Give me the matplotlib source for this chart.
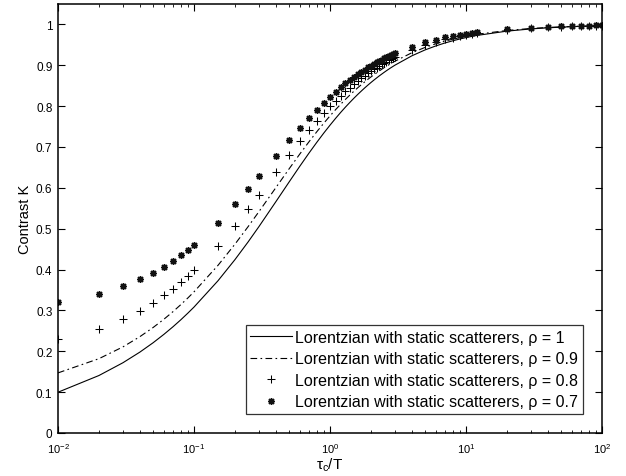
import matplotlib
matplotlib.use("Agg")
import matplotlib.pyplot as plt
from matplotlib.ticker import FixedLocator, FuncFormatter, LogLocator

plt.rcParams['font.family'] = ['Liberation Sans', 'DejaVu Sans']
plt.rcParams['mathtext.fontset'] = 'custom'
plt.rcParams['mathtext.rm'] = 'Liberation Sans'
plt.rcParams['mathtext.it'] = 'Liberation Sans:italic'

# tau_c / T sample positions
tau = [0.01, 0.02, 0.03, 0.04, 0.05, 0.06, 0.07, 0.08, 0.09, 0.1,
       0.15, 0.2, 0.25,
       0.3, 0.4, 0.5, 0.6, 0.7, 0.8, 0.9, 1.0, 1.1, 1.2, 1.3, 1.4, 1.5,
       1.6, 1.7, 1.8, 1.9, 2.0, 2.1, 2.2, 2.3, 2.4, 2.5, 2.6, 2.7, 2.8,
       2.9, 3.0,
       4, 5, 6, 7, 8, 9, 10, 11, 12,
       20, 30, 40, 50, 60, 70, 80, 90, 100]

k_rho10 = [0.0998, 0.1407, 0.1719, 0.1980, 0.2208, 0.2413, 0.2599, 0.2771, 0.2932, 0.3082,
           0.3725, 0.4243, 0.4677,
           0.5050, 0.5662, 0.6142, 0.6530, 0.6849, 0.7115, 0.7341, 0.7534, 0.7702, 0.7849,
           0.7978, 0.8092, 0.8195, 0.8287, 0.8370, 0.8446, 0.8515, 0.8578, 0.8636, 0.8689,
           0.8739, 0.8784, 0.8827, 0.8867, 0.8904, 0.8939, 0.8971, 0.9002,
           0.9232, 0.9376, 0.9474, 0.9546, 0.9600, 0.9643, 0.9678, 0.9706, 0.9730,
           0.9836, 0.9890, 0.9917, 0.9934, 0.9945, 0.9953, 0.9959, 0.9963, 0.9967]

k_rho09 = [0.1471, 0.1819, 0.2107, 0.2358, 0.2581, 0.2783, 0.2969, 0.3142, 0.3303, 0.3455,
           0.4102, 0.4621, 0.5051,
           0.5416, 0.6006, 0.6464, 0.6829, 0.7126, 0.7374, 0.7582, 0.7761, 0.7915, 0.8049,
           0.8167, 0.8272, 0.8366, 0.8450, 0.8525, 0.8594, 0.8657, 0.8714, 0.8767, 0.8815,
           0.8860, 0.8902, 0.8941, 0.8977, 0.9010, 0.9042, 0.9071, 0.9099,
           0.9307, 0.9437, 0.9526, 0.9591, 0.9640, 0.9678, 0.9710, 0.9735, 0.9757,
           0.9852, 0.9901, 0.9926, 0.9940, 0.9950, 0.9957, 0.9963, 0.9967, 0.9970]

k_rho08 = [0.2296, 0.2554, 0.2785, 0.2994, 0.3188, 0.3367, 0.3534, 0.3691, 0.3840, 0.3980,
           0.4587, 0.5077, 0.5484,
           0.5828, 0.6381, 0.6805, 0.7142, 0.7415, 0.7641, 0.7830, 0.7992, 0.8132, 0.8253,
           0.8360, 0.8455, 0.8539, 0.8614, 0.8683, 0.8744, 0.8801, 0.8852, 0.8899, 0.8943,
           0.8983, 0.9020, 0.9055, 0.9087, 0.9118, 0.9146, 0.9172, 0.9197,
           0.9383, 0.9499, 0.9578, 0.9636, 0.9680, 0.9714, 0.9742, 0.9764, 0.9784,
           0.9869, 0.9912, 0.9934, 0.9947, 0.9956, 0.9962, 0.9967, 0.9971, 0.9973]

k_rho07 = [0.3212, 0.3408, 0.3591, 0.3761, 0.3922, 0.4073, 0.4216, 0.4353, 0.4482, 0.4606,
           0.5149, 0.5593, 0.5964,
           0.6278, 0.6780, 0.7164, 0.7468, 0.7713, 0.7915, 0.8085, 0.8229, 0.8353, 0.8461,
           0.8556, 0.8640, 0.8715, 0.8781, 0.8842, 0.8896, 0.8946, 0.8992, 0.9033, 0.9072,
           0.9107, 0.9140, 0.9170, 0.9199, 0.9226, 0.9250, 0.9274, 0.9296,
           0.9459, 0.9561, 0.9630, 0.9681, 0.9719, 0.9749, 0.9774, 0.9794, 0.9810,
           0.9885, 0.9923, 0.9942, 0.9954, 0.9961, 0.9967, 0.9971, 0.9974, 0.9977]

labels = ['Lorentzian with static scatterers, \u03c1 = 1',
          'Lorentzian with static scatterers, \u03c1 = 0.9',
          'Lorentzian with static scatterers, \u03c1 = 0.8',
          'Lorentzian with static scatterers, \u03c1 = 0.7']

y_ticks = [0, 0.1, 0.2, 0.3, 0.4, 0.5, 0.6, 0.7, 0.8, 0.9, 1]

fig = plt.figure(figsize=(6.26, 4.77), dpi=100)
ax = fig.add_axes([58 / 626, 43 / 477, 544 / 626, 429 / 477])

ax.plot(tau, k_rho10, '-', color='black', lw=0.8, label=labels[0])
ax.plot(tau, k_rho09, color='black', lw=0.8, linestyle=(0, (6, 3, 1.5, 3)), label=labels[1])
ax.plot(tau, k_rho08, linestyle='none', marker='+', ms=5.5, mew=0.75, color='black', label=labels[2])
ax.plot(tau, k_rho07, linestyle='none', marker=(8, 2, 0), ms=5, mew=1.0, color='#111111', label=labels[3])

ax.set_xscale('log')
ax.set_xlim(0.01, 100)
ax.set_ylim(0, 1.05)
ax.yaxis.set_major_locator(FixedLocator(y_ticks))
ax.yaxis.set_major_formatter(FuncFormatter(lambda v, p: '%g' % v))
ax.xaxis.set_major_locator(LogLocator(base=10, numticks=10))
ax.xaxis.set_minor_locator(LogLocator(base=10, subs=range(2, 10), numticks=20))

ax.tick_params(which='both', direction='in', top=True, right=True)
ax.tick_params(axis='y', labelsize=8.5, pad=4)
ax.tick_params(axis='x', labelsize=8, pad=6)
ax.tick_params(which='major', length=5, width=0.8)
ax.tick_params(which='minor', length=2.5, width=0.6)
for s in ax.spines.values():
    s.set_linewidth(1.1)

ax.set_xlabel(r'$\mathregular{\tau_c/T}$', fontsize=11, labelpad=0)
ax.set_ylabel('Contrast K', fontsize=10.5, labelpad=3)

leg = ax.legend(loc='lower right', bbox_to_anchor=(583 / 626, (477 - 415) / 477),
                bbox_transform=fig.transFigure, fontsize=11.5, frameon=True, fancybox=False,
                edgecolor='black', handlelength=2.6, handletextpad=0.2, labelspacing=0.4,
                borderpad=0.3, borderaxespad=0)
leg.get_frame().set_linewidth(0.9)

fig.savefig('out.png', dpi=100)
